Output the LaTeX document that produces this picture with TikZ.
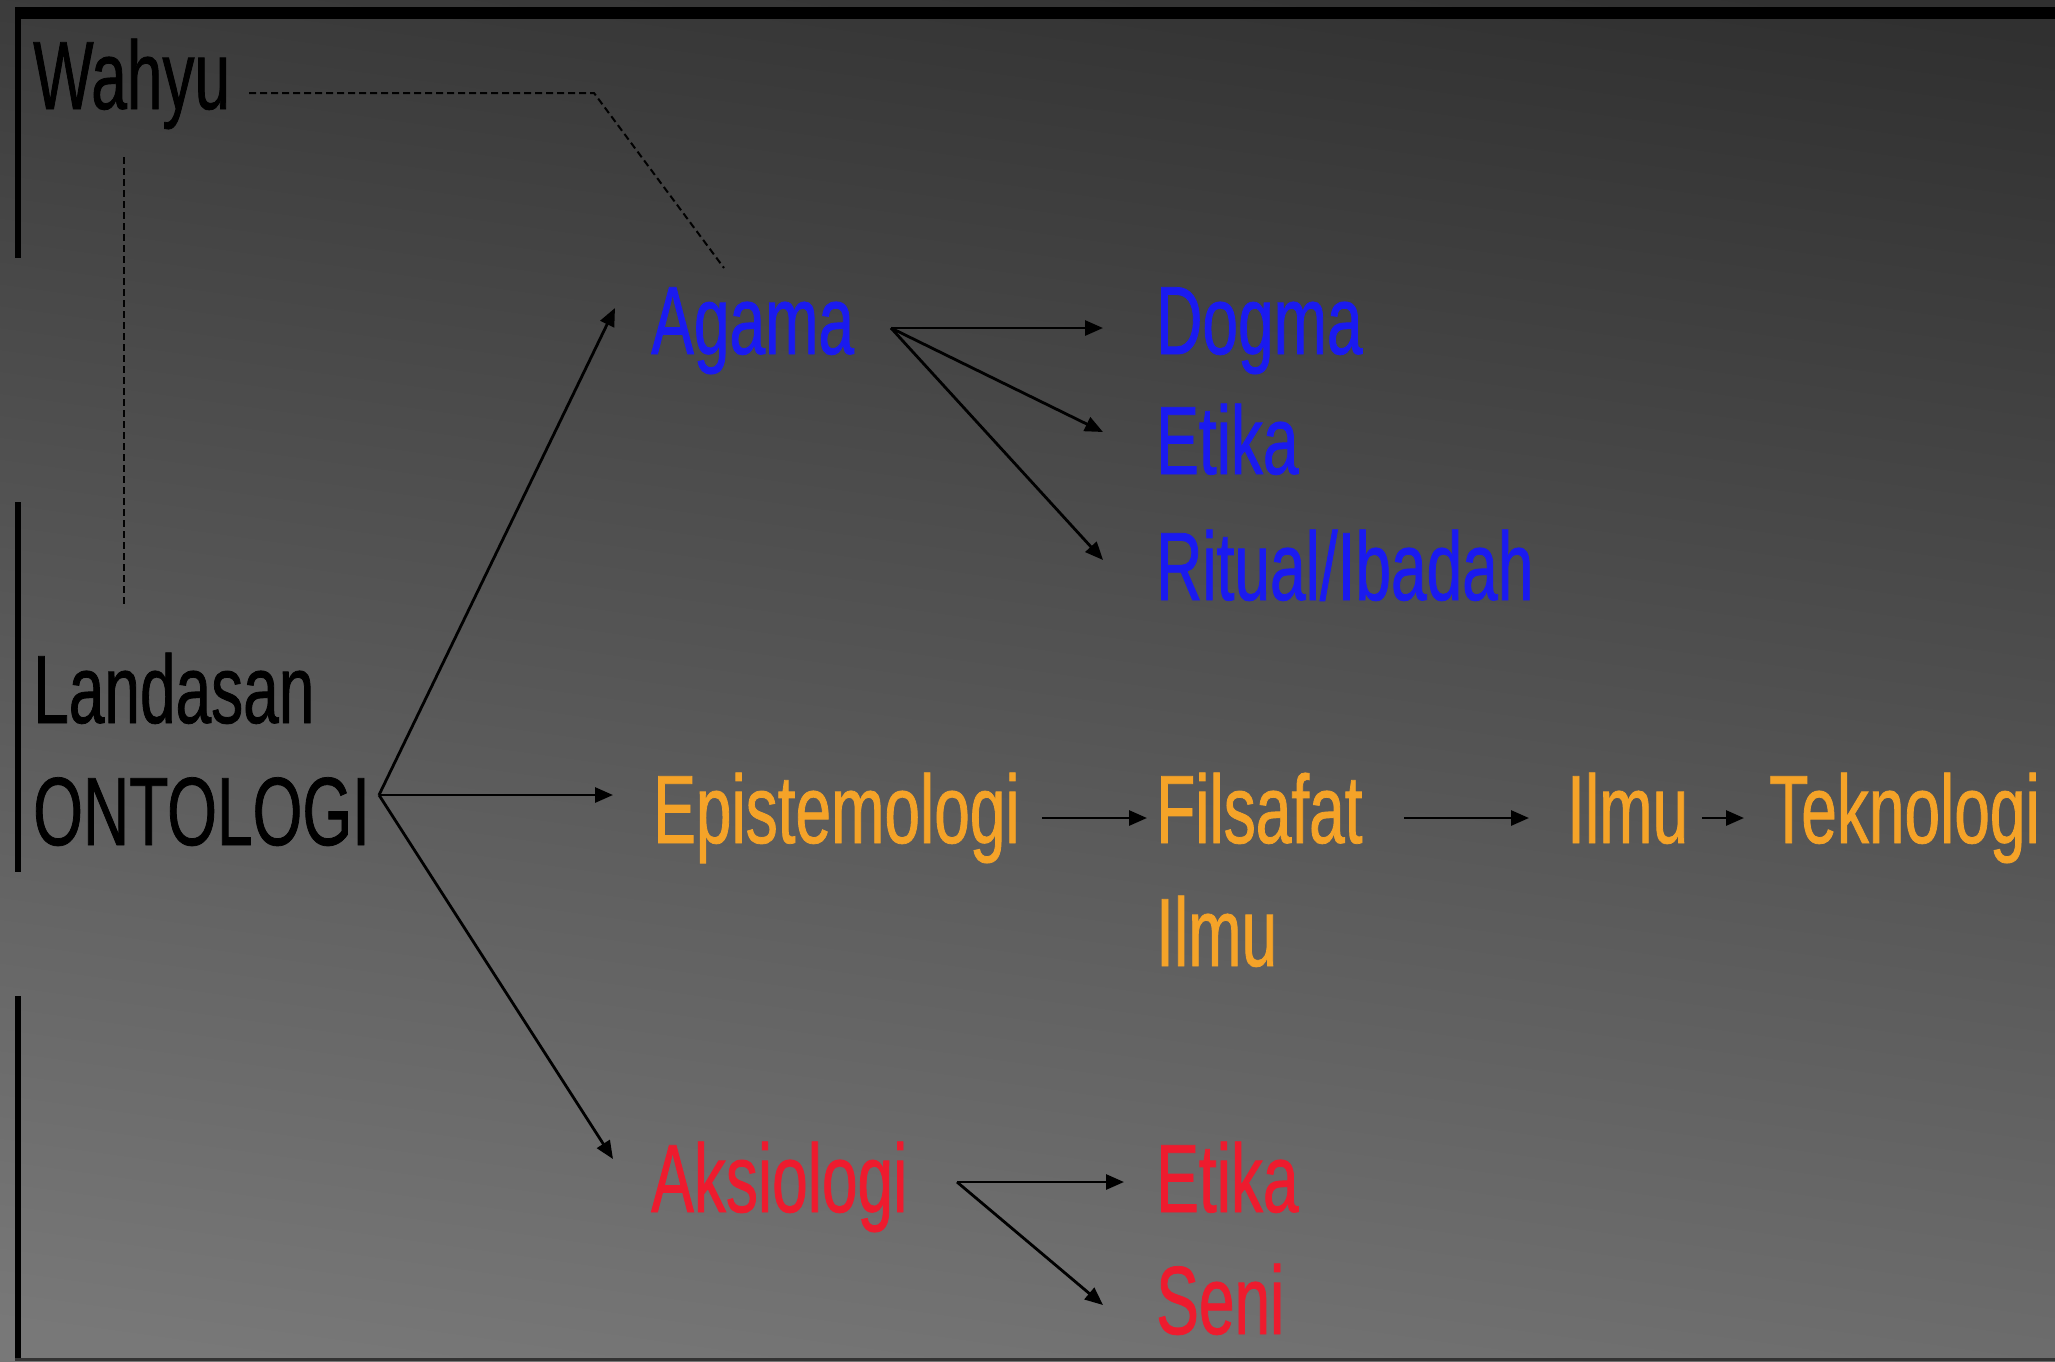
\documentclass[tikz,border=0pt]{standalone}
\usepackage{fontspec}
\setmainfont{Liberation Sans}[FakeStretch=0.66,FakeBold=0.8]
\usetikzlibrary{arrows.meta}

\definecolor{bgtop}{HTML}{303030}
\definecolor{bgbot}{HTML}{787878}
\definecolor{agblue}{HTML}{1A1AF0}
\definecolor{eporange}{HTML}{F5A328}
\definecolor{akred}{HTML}{EE1B2E}

\begin{document}
\begin{tikzpicture}[x=1pt,y=-1pt,
  lbl/.style={anchor=base west, inner sep=0pt, font=\fontsize{97}{110}\selectfont},
  link/.style={line width=2.8pt, -{Triangle[length=18pt,width=15pt]}},
  guide/.style={line width=2pt, dash pattern=on 7pt off 4pt},
  rim/.style={line width=6pt}]

  % background panel
  \path[use as bounding box] (0,0) rectangle (2055,1361);
  \shade[top color=bgtop, bottom color=bgbot, shading angle=-8] (-60,-60) rectangle (2115,1421);

  % frame pieces
  \fill[black] (15,7) rectangle (2055,19);
  \draw[rim] (18,7) -- (18,258);
  \draw[rim] (18,502) -- (18,872);
  \draw[rim] (18,996) -- (18,1361);
  \draw[black!80, line width=3pt] (15,1359) -- (2055,1359);

  % labels
  \node[lbl] (wahyu) at (33,109) {Wahyu};
  \node[lbl] (landasan) at (33,723) {Landasan};
  \node[lbl] (onto) at (33,845) {ONTOLOGI};

  \node[lbl, agblue] (agama) at (651,354) {Agama};
  \node[lbl, agblue] (dogma) at (1156,354) {Dogma};
  \node[lbl, agblue] (etikaA) at (1156,474) {Etika};
  \node[lbl, agblue] (ritual) at (1156,600) {Ritual/Ibadah};

  \node[lbl, eporange] (episte) at (653,843) {Epistemologi};
  \node[lbl, eporange] (filsafat) at (1156,843) {Filsafat};
  \node[lbl, eporange] (filsilmu) at (1156,966) {Ilmu};
  \node[lbl, eporange] (ilmu) at (1567,843) {Ilmu};
  \node[lbl, eporange] (tekno) at (1769,843) {Teknologi};

  \node[lbl, akred] (aksio) at (651,1212) {Aksiologi};
  \node[lbl, akred] (etikaB) at (1156,1212) {Etika};
  \node[lbl, akred] (seni) at (1156,1334) {Seni};

  % connector end points
  \coordinate (ontoR) at (379,795);
  \coordinate (agamaIn) at (615,308);
  \coordinate (episteIn) at (613,795);
  \coordinate (aksioIn) at (613,1159);

  \coordinate (agamaR) at (891,328);
  \coordinate (dogmaIn) at (1103,328);
  \coordinate (etikaAIn) at (1103,432);
  \coordinate (ritualIn) at (1103,560);

  \coordinate (episteR) at (1042,818);
  \coordinate (filsafatIn) at (1147,818);
  \coordinate (filsafatR) at (1404,818);
  \coordinate (ilmuIn) at (1529,818);
  \coordinate (ilmuR) at (1702,818);
  \coordinate (teknoIn) at (1744,818);

  \coordinate (aksioR) at (957,1182);
  \coordinate (etikaBIn) at (1124,1182);
  \coordinate (seniIn) at (1103,1305);

  \coordinate (wahyuR) at (249,93);
  \coordinate (wahyuBend) at (594,93);
  \coordinate (agamaTop) at (724,268);
  \coordinate (wahyuLow) at (124,157);
  \coordinate (landasanTop) at (124,605);

  % arrows
  \draw[link] (ontoR) -- (agamaIn);
  \draw[link] (ontoR) -- (episteIn);
  \draw[link] (ontoR) -- (aksioIn);

  \draw[link] (agamaR) -- (dogmaIn);
  \draw[link] (agamaR) -- (etikaAIn);
  \draw[link] (agamaR) -- (ritualIn);

  \draw[link] (episteR) -- (filsafatIn);
  \draw[link] (filsafatR) -- (ilmuIn);
  \draw[link] (ilmuR) -- (teknoIn);

  \draw[link] (aksioR) -- (etikaBIn);
  \draw[link] (aksioR) -- (seniIn);

  % dashed guides from Wahyu
  \draw[guide] (wahyuR) -- (wahyuBend) -- (agamaTop);
  \draw[guide] (wahyuLow) -- (landasanTop);
\end{tikzpicture}
\end{document}
